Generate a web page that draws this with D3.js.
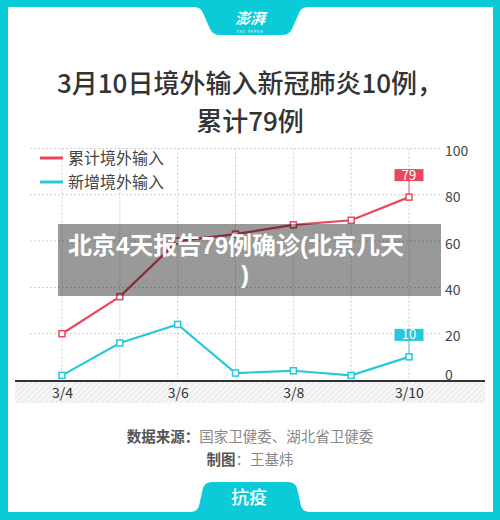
<!DOCTYPE html>
<html><head><meta charset="utf-8">
<script src="https://cdn.jsdelivr.net/npm/d3@7/dist/d3.min.js"></script>
<style>body{margin:0;background:#fff}svg{display:block}</style>
</head><body>
<svg id="c" width="500" height="520"></svg>
<script>
const days = ["3/4","3/5","3/6","3/7","3/8","3/9","3/10"];
const cumulative = [20,36,60,63,67,69,79];
const daily = [2,16,24,3,4,2,10];
const xTickLabels = ["3/4","3/6","3/8","3/10"];
const yTicks = [0,20,40,60,80,100];
const seriesNames = ["累计境外输入","新增境外输入"];
const titleLines = ["3月10日境外输入新冠肺炎10例，","累计79例"];
const overlayLines = ["北京4天报告79例确诊(北京几天",")"];

const RED = "#e9485c", CYAN = "#27c8d8", TEAL = "#0ccbd9";
const FONT = "'Noto Sans CJK SC','Noto Sans',sans-serif";
const svg = d3.select("#c").style("font-family", FONT);

// frame
svg.append("rect").attr("width",500).attr("height",520).attr("fill",TEAL);
svg.append("rect").attr("x",8).attr("y",7).attr("width",485).attr("height",505).attr("fill","#fff");
// top tab
svg.append("path").attr("fill",TEAL)
  .attr("d","M194,7 Q201,7 203,13 L210,29 Q213,35 220,35 L282,35 Q289,35 292,29 L299,13 Q301,7 308,7 Z");
svg.append("text").attr("x",250).attr("y",24).attr("text-anchor","middle")
  .attr("fill","#fff").attr("font-size",15).attr("font-style","italic").attr("font-weight",700).text("澎湃");
svg.append("text").attr("x",250).attr("y",33).attr("text-anchor","middle")
  .attr("fill","#fff").attr("font-size",3.5).attr("letter-spacing",1).text("THE PAPER");
// bottom tab
svg.append("path").attr("fill",TEAL)
  .attr("d","M190,512 Q197,512 199,506 L203,488 Q205,482 212,482 L288,482 Q295,482 297,488 L301,506 Q303,512 310,512 Z");
svg.append("text").attr("x",249).attr("y",504).attr("text-anchor","middle")
  .attr("fill","#fff").attr("font-size",18).attr("font-weight",500).text("抗疫");

// title
svg.selectAll(".title").data(titleLines).join("text")
  .attr("x",250).attr("y",(d,i)=>93+i*38).attr("text-anchor","middle")
  .attr("fill","#333").attr("font-size",26).attr("font-weight",500).text(d=>d);

// scales
const x = d3.scalePoint().domain(days).range([62,409]);
const y = d3.scaleLinear().domain([0,100]).range([380,148.5]);

// gridlines
const g = svg.append("g");
g.selectAll(".hg").data(yTicks.filter(t=>t>0)).join("line")
  .attr("x1",30).attr("x2",440).attr("y1",d=>y(d)).attr("y2",d=>y(d))
  .attr("stroke","#cfcfcf").attr("stroke-dasharray","2,2");
g.selectAll(".vg").data(days).join("line")
  .attr("x1",d=>x(d)).attr("x2",d=>x(d)).attr("y1",y(100)).attr("y2",y(0))
  .attr("stroke","#cfcfcf").attr("stroke-dasharray","2,2");

// hatch band
const defs = svg.append("defs");
const pat = defs.append("pattern").attr("id","hatch").attr("patternUnits","userSpaceOnUse")
  .attr("width",4).attr("height",4).attr("patternTransform","rotate(45)");
pat.append("rect").attr("width",4).attr("height",4).attr("fill","#f6f6f6");
pat.append("line").attr("x1",0).attr("y1",0).attr("x2",0).attr("y2",4).attr("stroke","#dcdcdc").attr("stroke-width",1.2);
svg.append("rect").attr("x",15).attr("y",382).attr("width",470).attr("height",21).attr("fill","url(#hatch)");

// y axis labels
const yAxis = d3.axisRight(y).tickValues(yTicks).tickSize(0).tickPadding(0);
const ya = svg.append("g").attr("transform","translate(445,0)").call(yAxis);
ya.select(".domain").remove();
ya.selectAll("text").attr("font-size",14).attr("fill","#444").attr("font-family",FONT)
  .attr("dy",d=>d===0?"-0.05em":"0.5em");

// x axis
const xAxis = d3.axisBottom(x).tickValues(xTickLabels).tickSize(0).tickPadding(0);
const xa = svg.append("g").attr("transform","translate(0,381)").call(xAxis);
xa.select(".domain").remove();
xa.selectAll("text").attr("font-size",14).attr("fill","#333").attr("font-family",FONT).attr("dy","1.2em");
svg.append("line").attr("x1",15).attr("x2",485).attr("y1",381).attr("y2",381).attr("stroke","#333").attr("stroke-width",2);

// lines
const line = d3.line().x((d,i)=>x(days[i])).y(d=>y(d));
[[cumulative,RED],[daily,CYAN]].forEach(([vals,col])=>{
  svg.append("path").datum(vals).attr("d",line).attr("fill","none").attr("stroke",col).attr("stroke-width",2.2);
  svg.selectAll(null).data(vals).join("rect")
    .attr("x",(d,i)=>x(days[i])-3).attr("y",d=>y(d)-3).attr("width",6).attr("height",6)
    .attr("fill","#fff").attr("stroke",col).attr("stroke-width",1.5);
  const last = vals.length-1, lx = x(days[last]), ly = y(vals[last]);
  svg.append("line").attr("x1",lx).attr("x2",lx).attr("y1",ly-3).attr("y2",ly-16)
    .attr("stroke",col).attr("stroke-opacity",0.6).attr("stroke-width",1.5);
  svg.append("rect").attr("x",lx-14.5).attr("y",ly-28).attr("width",29).attr("height",12).attr("fill",col);
  svg.append("text").attr("x",lx).attr("y",ly-17.5).attr("text-anchor","middle")
    .attr("fill","#fff").attr("font-size",13).text(vals[last]);
});

// legend
[RED,CYAN].forEach((col,i)=>{
  const ly = 158 + i*24;
  svg.append("line").attr("x1",40).attr("x2",63).attr("y1",ly).attr("y2",ly).attr("stroke",col).attr("stroke-width",3);
  svg.append("text").attr("x",68).attr("y",ly+5.5).attr("fill","#444").attr("font-size",16).text(seriesNames[i]);
});

// overlay
svg.append("rect").attr("x",58).attr("y",224).attr("width",383).attr("height",72).attr("fill","rgba(0,0,0,0.4)");
svg.selectAll(".ov").data(overlayLines).join("text")
  .attr("x",(d,i)=>i===0?68:245).attr("y",(d,i)=>254+i*29)
  .attr("text-anchor",(d,i)=>i===0?"start":"middle")
  .attr("font-family","'Liberation Sans','Noto Sans CJK SC',sans-serif")
  .attr("fill","#fff").attr("font-size",24).attr("font-weight",700).text(d=>d);

// footer
const f1 = svg.append("text").attr("x",250).attr("y",442).attr("text-anchor","middle").attr("font-size",14.5);
f1.append("tspan").attr("fill","#555").attr("font-weight",700).text("数据来源：");
f1.append("tspan").attr("fill","#888").text("国家卫健委、湖北省卫健委");
const f2 = svg.append("text").attr("x",250).attr("y",465).attr("text-anchor","middle").attr("font-size",14.5);
f2.append("tspan").attr("fill","#555").attr("font-weight",700).text("制图");
f2.append("tspan").attr("fill","#888").text("：王基炜");
</script>
</body></html>
